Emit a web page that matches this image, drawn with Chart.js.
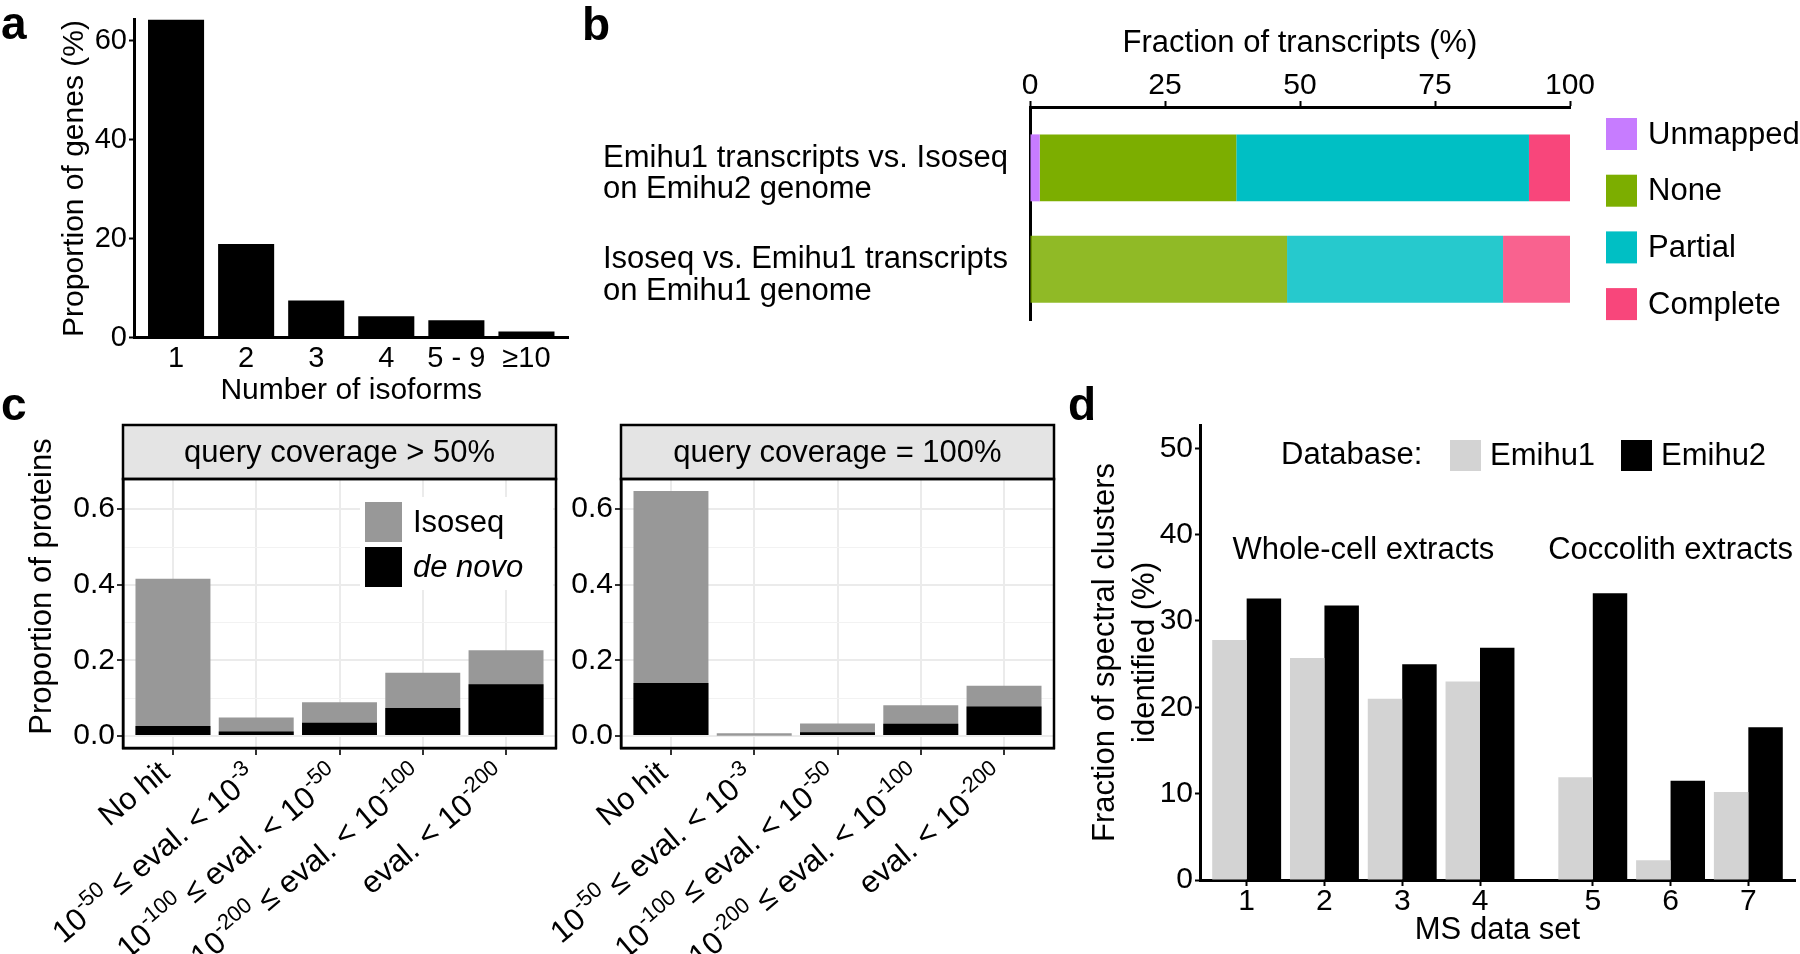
<!DOCTYPE html>
<html lang="en">
<head>
<meta charset="utf-8">
<title>Isoforms, transcript overlap, BLAST hits and MS identification</title>
<script src="https://cdn.jsdelivr.net/npm/chart.js@4.4.1/dist/chart.umd.min.js"></script>
<style>
  html, body { margin: 0; padding: 0; background: #fff; }
  #figure { position: relative; width: 1800px; height: 954px; overflow: hidden; background: #fff; }
  #figure canvas { position: absolute; }
  .tag { position: absolute; font: bold 46px "Liberation Sans", Arial, sans-serif; line-height: 46px; color: #000; }
</style>
</head>
<body>
<div id="figure">
  <canvas id="isoformChart" width="600" height="410" style="left:0;top:0"></canvas>
  <canvas id="overlapChart" width="1220" height="380" style="left:580px;top:0"></canvas>
  <canvas id="blast50Chart" width="580" height="554" style="left:0;top:400px"></canvas>
  <canvas id="blast100Chart" width="580" height="554" style="left:480px;top:400px"></canvas>
  <canvas id="msChart" width="740" height="574" style="left:1060px;top:380px"></canvas>
  <div class="tag" style="left:1px;top:0">a</div>
  <div class="tag" style="left:582px;top:1px">b</div>
  <div class="tag" style="left:1px;top:381px">c</div>
  <div class="tag" style="left:1068px;top:381px">d</div>
</div>
<script>
// ---- panel a: isoforms per gene
const isoformBins = ['1', '2', '3', '4', '5 - 9', '≥10'];
const geneShare = [64.3, 18.9, 7.5, 4.3, 3.5, 1.2];

// ---- panel b: transcript overlap (%)
const comparisons = [
  ['Emihu1 transcripts vs. Isoseq', 'on Emihu2 genome'],
  ['Isoseq vs. Emihu1 transcripts', 'on Emihu1 genome']
];
const overlapClasses = ['Unmapped', 'None', 'Partial', 'Complete'];
const overlapColors = ['#C77CFF', '#7CAE00', '#00BFC4', '#F8467B'];
const unmappedShare = [1.8, 0];
const noneShare = [36.4, 47.6];
const partialShare = [54.2, 40.0];
const completeShare = [7.6, 12.4];

// ---- panel c: best BLAST hit e-value classes
const evalueBins = [
  'No hit',
  '10^{-50} ≤ eval. < 10^{-3}',
  '10^{-100} ≤ eval. < 10^{-50}',
  '10^{-200} ≤ eval. < 10^{-100}',
  'eval. < 10^{-200}'
];
const proteinTicks = [0, 0.1, 0.2, 0.3, 0.4, 0.5, 0.6];
const isoseqCov50 = [0.416, 0.049, 0.089, 0.167, 0.227];
const denovoCov50 = [0.026, 0.012, 0.035, 0.074, 0.137];
const isoseqCov100 = [0.648, 0.007, 0.033, 0.081, 0.133];
const denovoCov100 = [0.140, 0.002, 0.010, 0.032, 0.078];

// ---- panel d: MS spectral clusters identified (%)
const msDataSets = ['1', '2', '3', '4', '5', '6', '7'];
const extractGroups = ['Whole-cell extracts', 'Coccolith extracts'];
const msGroup = [0, 0, 0, 0, 1, 1, 1];
const emihu1Share = [27.8, 25.7, 21.0, 23.0, 11.9, 2.3, 10.2];
const emihu2Share = [32.6, 31.8, 25.0, 26.9, 33.2, 11.5, 17.7];

const FONT = '"Liberation Sans", Arial, Helvetica, sans-serif';
Chart.defaults.font.family = FONT;
Chart.defaults.font.size = 30;
Chart.defaults.color = '#000';
Chart.defaults.animation = false;
Chart.defaults.events = [];
Chart.defaults.plugins.legend.display = false;
Chart.defaults.plugins.tooltip.enabled = false;

const AXIS = { display: true, color: '#000', width: 3 };

function fade(hex, a) {
  const n = parseInt(hex.slice(1), 16);
  return `rgba(${n >> 16},${(n >> 8) & 255},${n & 255},${a})`;
}

// split '10^{-50} ≤ ...' into normal / superscript runs
function parseRich(label) {
  const parts = [];
  const re = /\^\{([^}]*)\}/g;
  let last = 0, m;
  while ((m = re.exec(label))) {
    if (m.index > last) parts.push({ t: label.slice(last, m.index), sup: false });
    parts.push({ t: m[1], sup: true });
    last = re.lastIndex;
  }
  if (last < label.length) parts.push({ t: label.slice(last), sup: false });
  return parts;
}

// legend boxes drawn relative to the chart area
const keyLegend = {
  id: 'keyLegend',
  afterDraw(chart, args, o) {
    if (!o.items) return;
    const { ctx, chartArea: a } = chart;
    ctx.save();
    if (o.background) {
      ctx.fillStyle = o.background;
      ctx.fillRect(a.left + o.box[0], a.top + o.box[1], o.box[2], o.box[3]);
    }
    ctx.textBaseline = 'middle';
    ctx.textAlign = 'left';
    if (o.heading) {
      ctx.fillStyle = '#000';
      ctx.font = `${o.size}px ${FONT}`;
      ctx.fillText(o.heading.text, a.left + o.heading.x, a.top + o.y + o.keyH / 2);
    }
    o.items.forEach((it, i) => {
      const x = a.left + o.x + i * (o.dx || 0);
      const y = a.top + o.y + i * (o.dy || 0);
      ctx.fillStyle = it.color;
      ctx.fillRect(x, y, o.keyW, o.keyH);
      ctx.fillStyle = '#000';
      ctx.font = `${it.italic ? 'italic ' : ''}${o.size}px ${FONT}`;
      ctx.fillText(it.text, x + o.keyW + o.gap, y + o.keyH / 2 + 1);
    });
    ctx.restore();
  }
};

// facet strip, full panel border and y title spanning strip + panel
const facetFrame = {
  id: 'facetFrame',
  afterDatasetsDraw(chart, args, o) {
    if (!o.strip) return;
    const { ctx, chartArea: a } = chart;
    const top = a.top - o.stripHeight;
    ctx.save();
    ctx.lineWidth = 2.5;
    ctx.strokeStyle = '#000';
    ctx.fillStyle = '#E4E4E4';
    ctx.fillRect(a.left, top, a.width, o.stripHeight);
    ctx.strokeRect(a.left, top, a.width, o.stripHeight);
    ctx.strokeRect(a.left, a.top, a.width, a.height);
    ctx.fillStyle = '#000';
    ctx.font = `31px ${FONT}`;
    ctx.textAlign = 'center';
    ctx.textBaseline = 'middle';
    ctx.fillText(o.strip, (a.left + a.right) / 2, top + o.stripHeight / 2 + 1);
    if (o.yTitle) {
      ctx.translate(a.left - o.yTitleOffset, (top + a.bottom) / 2);
      ctx.rotate(-Math.PI / 2);
      ctx.fillText(o.yTitle, 0, 0);
    }
    ctx.restore();
  }
};

// rotated x labels with superscripts (e.g. 10^-50)
const richTicks = {
  id: 'richTicks',
  afterDraw(chart, args, o) {
    if (!o.labels) return;
    const { ctx, chartArea: a } = chart;
    const xs = chart.scales.x;
    const size = o.size, supSize = Math.round(size * 0.7);
    const rise = size * 0.42;
    ctx.save();
    ctx.fillStyle = '#000';
    ctx.textBaseline = 'alphabetic';
    ctx.textAlign = 'left';
    o.labels.forEach((label, i) => {
      const parts = parseRich(label);
      let total = 0;
      parts.forEach(p => {
        ctx.font = `${p.sup ? supSize : size}px ${FONT}`;
        p.w = ctx.measureText(p.t).width;
        total += p.w;
      });
      const base = parts.some(p => p.sup) ? rise + supSize * 0.72 : size * 0.72;
      ctx.save();
      ctx.translate(xs.getPixelForValue(i + 1) + o.dx, a.bottom + o.dy);
      ctx.rotate(-o.angle * Math.PI / 180);
      let x = -total;
      parts.forEach(p => {
        ctx.font = `${p.sup ? supSize : size}px ${FONT}`;
        ctx.fillText(p.t, x, p.sup ? base - rise : base);
        x += p.w;
      });
      ctx.restore();
    });
    ctx.restore();
  }
};

// group captions placed in data coordinates
const groupCaptions = {
  id: 'groupCaptions',
  afterDatasetsDraw(chart, args, o) {
    if (!o.groups) return;
    const { ctx, scales: { x, y } } = chart;
    ctx.save();
    ctx.font = `31px ${FONT}`;
    ctx.fillStyle = '#000';
    ctx.textAlign = 'center';
    ctx.textBaseline = 'middle';
    o.groups.forEach((name, g) => {
      const members = o.positions.filter((_, i) => o.membership[i] === g);
      const mid = (Math.min(...members) + Math.max(...members)) / 2;
      ctx.fillText(name, x.getPixelForValue(mid), y.getPixelForValue(o.yValue));
    });
    ctx.restore();
  }
};

// ---------------- panel a
new Chart(document.getElementById('isoformChart'), {
  type: 'bar',
  data: {
    datasets: [{
      data: geneShare.map((v, i) => ({ x: i + 1, y: v })),
      backgroundColor: '#000',
      barPercentage: 0.8,
      categoryPercentage: 1
    }]
  },
  options: {
    responsive: false,
    layout: { padding: { top: 19.5, right: 31.5, bottom: 0, left: 0 } },
    scales: {
      x: {
        type: 'linear', min: 0.4, max: isoformBins.length + 0.6, offset: false,
        afterBuildTicks: s => { s.ticks = isoformBins.map((_, i) => ({ value: i + 1 })); },
        afterFit: s => { s.height = 72.5; },
        ticks: { autoSkip: false, maxRotation: 0, padding: -4, font: { size: 29 }, callback: (v, i) => isoformBins[i] },
        grid: { display: false, offset: false },
        border: AXIS,
        title: { display: true, text: 'Number of isoforms', font: { size: 30 }, padding: { top: 0, bottom: 1 } }
      },
      y: {
        min: 0, max: Math.max(...geneShare),
        afterFit: s => { s.width = 134; },
        ticks: { stepSize: 20, includeBounds: false, padding: 2, font: { size: 29 } },
        grid: { drawOnChartArea: false, tickLength: 5, tickWidth: 2, tickColor: '#000' },
        border: AXIS,
        title: { display: true, text: 'Proportion of genes (%)', font: { size: 30 }, padding: { top: 57, bottom: 0 } }
      }
    }
  }
});

// ---------------- panel b
const overlapSeries = [unmappedShare, noneShare, partialShare, completeShare];
new Chart(document.getElementById('overlapChart'), {
  type: 'bar',
  data: {
    datasets: overlapClasses.map((name, k) => ({
      label: name,
      data: overlapSeries[k].map((v, i) => ({ x: v, y: i + 1 })),
      backgroundColor: comparisons.map((_, i) => i === 0 ? overlapColors[k] : fade(overlapColors[k], 0.85)),
      barPercentage: 0.66,
      categoryPercentage: 1
    }))
  },
  options: {
    indexAxis: 'y',
    responsive: false,
    layout: { padding: { top: 0, right: 230, bottom: 60, left: 23 } },
    scales: {
      x: {
        position: 'top', stacked: true, min: 0, max: 100,
        afterFit: s => { s.height = 107; },
        ticks: { stepSize: 25, padding: -3, font: { size: 30 } },
        grid: { drawOnChartArea: false, tickLength: 6, tickWidth: 2, tickColor: '#000' },
        border: AXIS,
        title: { display: true, text: 'Fraction of transcripts (%)', font: { size: 31 }, padding: { top: 25, bottom: 0 } }
      },
      y: {
        type: 'linear', stacked: true, reverse: true, min: 0.4, max: 2.5, offset: false,
        afterBuildTicks: s => { s.ticks = comparisons.map((_, i) => ({ value: i + 1 })); },
        afterFit: s => { s.width = 427; },
        ticks: { crossAlign: 'far', autoSkip: false, labelOffset: 6, font: { size: 31, lineHeight: 1.02 }, callback: (v, i) => comparisons[i] },
        grid: { display: false, offset: false },
        border: AXIS
      }
    },
    plugins: {
      keyLegend: {
        items: overlapClasses.map((c, k) => ({ text: c, color: overlapColors[k] })),
        x: 576, y: 11, dy: 56.7, keyW: 31, keyH: 32, gap: 11, size: 31
      }
    }
  },
  plugins: [keyLegend]
});

// ---------------- panel c
function blastChart(canvasId, strip, isoseq, denovo, first) {
  return new Chart(document.getElementById(canvasId), {
    type: 'bar',
    data: {
      datasets: [
        { label: 'de novo', data: denovo.map((v, i) => ({ x: i + 1, y: v })), backgroundColor: '#000' },
        { label: 'Isoseq', data: isoseq.map((v, i) => ({ x: i + 1, y: v })), backgroundColor: '#989898' }
      ].map(d => Object.assign(d, { grouped: false, barPercentage: 0.9, categoryPercentage: 1 }))
    },
    options: {
      responsive: false,
      layout: { padding: { top: 79, right: first ? 24 : 6, bottom: 0, left: 0 } },
      scales: {
        x: {
          type: 'linear', min: 0.4, max: evalueBins.length + 0.6, offset: false,
          afterBuildTicks: s => { s.ticks = evalueBins.map((_, i) => ({ value: i + 1 })); },
          afterFit: s => { s.height = 206; },
          ticks: { display: false },
          grid: { color: '#EBEBEB', lineWidth: 2, offset: false, tickColor: '#333', tickLength: 7, tickWidth: 2 },
          border: { display: true, color: '#000', width: 2.5 }
        },
        y: {
          min: -0.032, max: 0.68,
          afterBuildTicks: s => { s.ticks = proteinTicks.map(v => ({ value: v })); },
          afterFit: s => { s.width = first ? 123 : 141; },
          ticks: { padding: 2, font: { size: 30 }, callback: (v, i) => i % 2 === 0 ? v.toFixed(1) : '' },
          grid: {
            color: c => c.index % 2 === 0 ? '#EBEBEB' : '#F2F2F2',
            lineWidth: c => c.index % 2 === 0 ? 2 : 1,
            tickColor: c => c.index % 2 === 0 ? '#333' : 'rgba(0,0,0,0)',
            tickLength: 6, tickWidth: 2
          },
          border: { display: true, color: '#000', width: 2.5 }
        }
      },
      plugins: {
        facetFrame: { strip, stripHeight: 54, yTitle: first ? 'Proportion of proteins' : null, yTitleOffset: 81 },
        richTicks: { labels: evalueBins, size: 31, dx: -16, dy: 10, angle: 40 },
        keyLegend: first ? {
          items: [{ text: 'Isoseq', color: '#989898' }, { text: 'de novo', color: '#000', italic: true }],
          background: '#fff', box: [237, 18, 193, 93],
          x: 242, y: 23, dy: 45, keyW: 37, keyH: 40, gap: 11, size: 31
        } : {}
      }
    },
    plugins: [facetFrame, keyLegend, richTicks]
  });
}
blastChart('blast50Chart', 'query coverage > 50%', isoseqCov50, denovoCov50, true);
blastChart('blast100Chart', 'query coverage = 100%', isoseqCov100, denovoCov100, false);

// ---------------- panel d
const groupGap = 0.45;
const msPos = msGroup.map((g, i) => i + 1 + g * groupGap);
new Chart(document.getElementById('msChart'), {
  type: 'bar',
  data: {
    datasets: [
      { label: 'Emihu1', data: emihu1Share.map((v, i) => ({ x: msPos[i], y: v })), backgroundColor: '#D3D3D3' },
      { label: 'Emihu2', data: emihu2Share.map((v, i) => ({ x: msPos[i], y: v })), backgroundColor: '#000' }
    ].map(d => Object.assign(d, { barPercentage: 1, categoryPercentage: 0.886 }))
  },
  options: {
    responsive: false,
    layout: { padding: { top: 45, right: 5, bottom: 0, left: 0 } },
    scales: {
      x: {
        type: 'linear', min: 0.4, max: msPos[msPos.length - 1] + 0.6, offset: false,
        afterBuildTicks: s => { s.ticks = msPos.map(v => ({ value: v })); },
        afterFit: s => { s.height = 74; },
        ticks: { autoSkip: false, maxRotation: 0, padding: -2, font: { size: 30 }, callback: (v, i) => msDataSets[i] },
        grid: { drawOnChartArea: false, offset: false, tickLength: 6, tickWidth: 2, tickColor: '#000' },
        border: AXIS,
        title: { display: true, text: 'MS data set', font: { size: 31 }, padding: { top: 0, bottom: 5 } }
      },
      y: {
        min: 0, max: 52.7,
        afterFit: s => { s.width = 140; },
        ticks: { stepSize: 10, includeBounds: false, padding: 2, font: { size: 30 } },
        grid: { drawOnChartArea: false, tickLength: 5, tickWidth: 2, tickColor: '#000' },
        border: AXIS,
        title: {
          display: true, text: ['Fraction of spectral clusters', 'identified (%)'],
          font: { size: 31, lineHeight: 1.27 }, padding: { top: 26, bottom: 0 }
        }
      }
    },
    plugins: {
      keyLegend: {
        heading: { text: 'Database:', x: 81 },
        items: [{ text: 'Emihu1', color: '#D3D3D3' }, { text: 'Emihu2', color: '#000' }],
        x: 250, y: 15, dx: 171, keyW: 31, keyH: 31, gap: 9, size: 31
      },
      groupCaptions: { groups: extractGroups, positions: msPos, membership: msGroup, yValue: 38.2 }
    }
  },
  plugins: [keyLegend, groupCaptions]
});
</script>
</body>
</html>
